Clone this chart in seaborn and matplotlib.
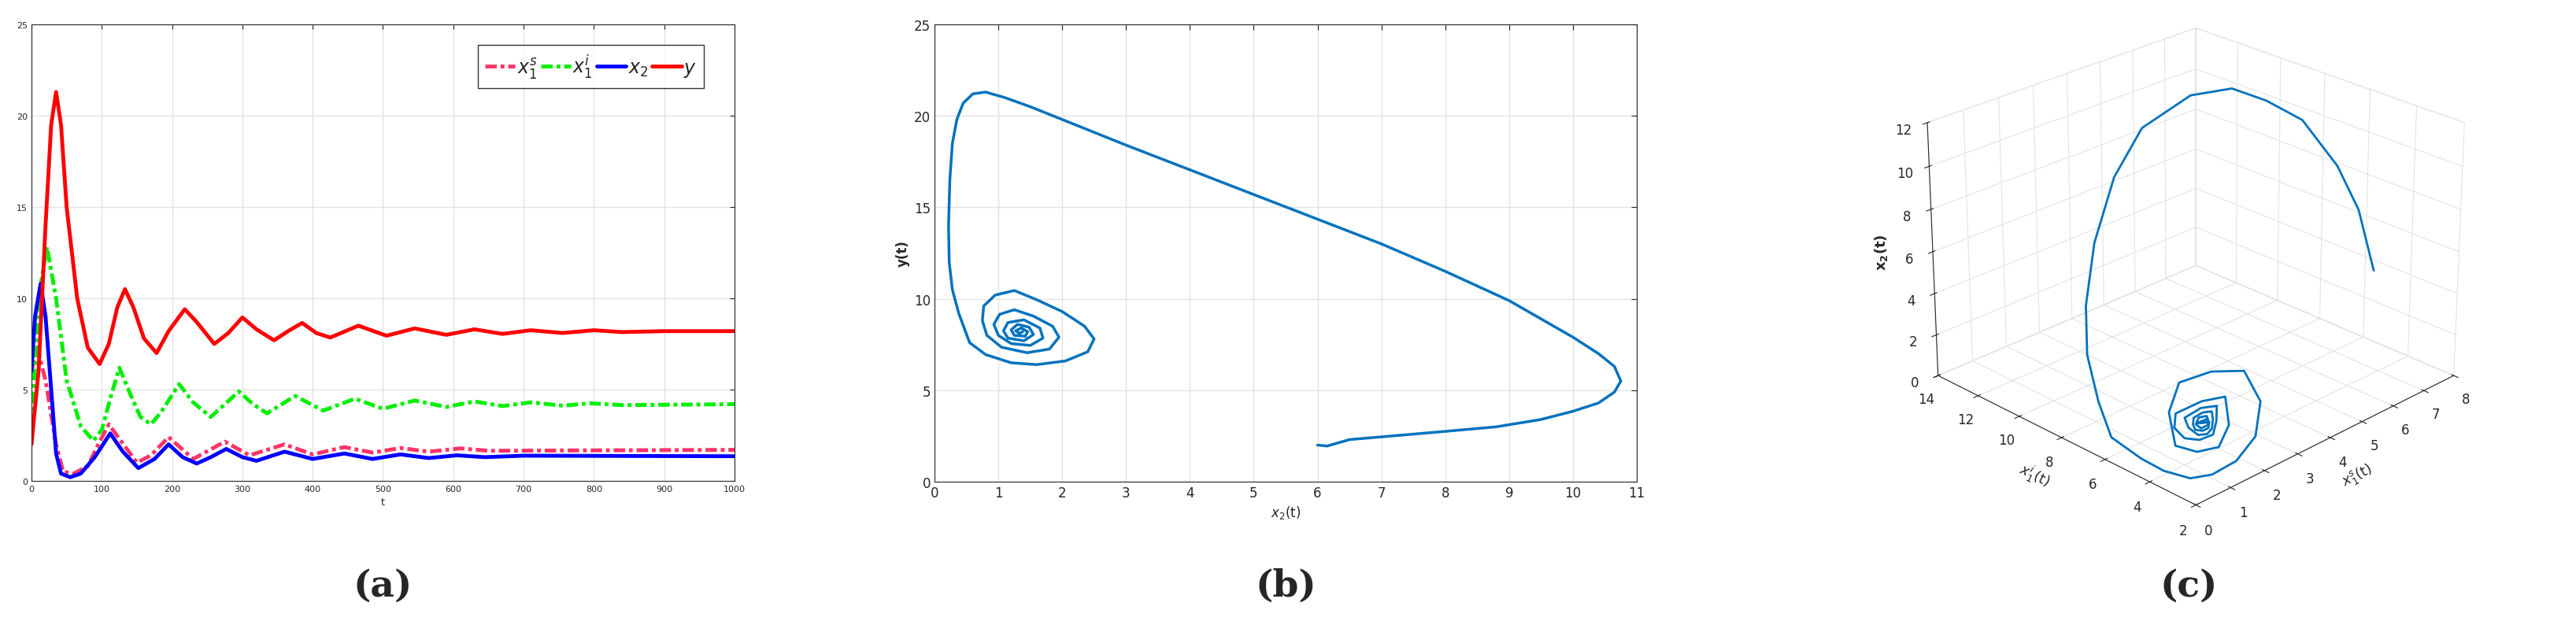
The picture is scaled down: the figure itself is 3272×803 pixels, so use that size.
import matplotlib
matplotlib.use('Agg')
import matplotlib.pyplot as plt
import seaborn as sns
import pandas as pd

sns.set_style('white')
plt.rcParams['font.family'] = ['DejaVu Sans']

# panel (a): time series at peaks / troughs / turns
t_y = [0, 10, 20, 28, 35, 42, 50, 65, 80, 97, 110, 122, 133, 145, 160, 178, 195, 218, 235, 260, 280, 300, 320, 345,
       365, 385, 405, 425, 465, 505, 545, 590, 630, 670, 710, 755, 800, 840, 900, 1000]
y_vals = [2, 6, 14, 19.5, 21.3, 19.5, 15, 10, 7.3, 6.4, 7.5, 9.5, 10.5, 9.5, 7.8, 7.0, 8.2, 9.4, 8.7, 7.5, 8.1, 8.95,
          8.3, 7.7, 8.2, 8.65, 8.1, 7.85, 8.5, 7.95, 8.35, 8.0, 8.3, 8.05, 8.25, 8.1, 8.25, 8.15, 8.2, 8.2]
t_i = [0, 10, 22, 35, 50, 70, 88, 100, 112, 125, 140, 155, 170, 185, 210, 230, 255, 275, 295, 315, 335, 375, 415,
       460, 500, 545, 590, 630, 670, 710, 755, 795, 840, 1000]
x1i_vals = [3, 10, 12.8, 10, 5.5, 3, 2.2, 2.8, 4.5, 6.2, 4.8, 3.5, 3.1, 3.8, 5.3, 4.3, 3.5, 4.2, 4.9, 4.2, 3.7, 4.65,
            3.85, 4.5, 3.95, 4.4, 4.05, 4.35, 4.1, 4.3, 4.12, 4.25, 4.15, 4.2]
t_s = [0, 8, 20, 35, 45, 60, 80, 95, 110, 125, 150, 170, 195, 230, 275, 310, 360, 400, 445, 485, 525, 565, 610,
       650, 1000]
x1s_vals = [6, 7.3, 5.5, 2, 0.5, 0.4, 0.8, 2, 3.1, 2.3, 1.0, 1.4, 2.4, 1.2, 2.15, 1.4, 2.0, 1.45, 1.85, 1.55, 1.8,
            1.6, 1.78, 1.65, 1.7]
t_2 = [0, 5, 13, 20, 28, 35, 42, 55, 70, 90, 112, 130, 152, 175, 195, 215, 235, 255, 277, 300, 320, 360, 400, 445,
       485, 525, 565, 605, 645, 700, 1000]
x2_vals = [6, 9, 10.8, 9, 5, 1.5, 0.4, 0.2, 0.4, 1.3, 2.6, 1.6, 0.7, 1.2, 2.0, 1.3, 0.95, 1.3, 1.75, 1.3, 1.1, 1.6,
           1.2, 1.5, 1.2, 1.45, 1.25, 1.4, 1.3, 1.38, 1.35]

# panel (b): phase trajectory x2 vs y
ph_x2 = [6, 6.15, 6.3, 6.5, 7, 8, 8.8, 9.5, 10.0, 10.4, 10.65, 10.75, 10.65, 10.4, 10.0, 9.5, 9, 8, 7, 5, 3, 2,
         1.5, 1.1, 0.8, 0.6, 0.45, 0.35, 0.28, 0.24, 0.22, 0.23, 0.28, 0.38,
         0.55, 0.8, 1.2, 1.6, 2.05, 2.4, 2.5, 2.35, 2.0, 1.6, 1.25, 0.95, 0.77, 0.75,
         0.82, 1.05, 1.45, 1.8, 1.95, 1.85, 1.55, 1.25, 1.02, 0.93,
         1.0, 1.2, 1.5, 1.7, 1.65, 1.4, 1.15, 1.08,
         1.15, 1.4, 1.55, 1.48, 1.3, 1.2,
         1.25, 1.42, 1.46, 1.36, 1.27, 1.33, 1.38]
ph_y = [2, 1.95, 2.1, 2.3, 2.45, 2.75, 3.0, 3.4, 3.85, 4.3, 4.9, 5.5, 6.3, 7.0, 7.9, 8.9, 9.9, 11.5, 13, 15.7, 18.4,
        19.8, 20.5, 21.0, 21.3, 21.2, 20.7, 19.8, 18.5, 16.5, 14, 12, 10.5, 9.2,
        7.6, 6.95, 6.5, 6.4, 6.6, 7.1, 7.8, 8.5, 9.3, 9.95, 10.45, 10.2, 9.6, 8.8,
        8.0, 7.35, 7.05, 7.25, 7.9, 8.5, 9.05, 9.4, 9.15, 8.6,
        8.0, 7.55, 7.45, 7.85, 8.4, 8.85, 8.7, 8.25,
        7.85, 7.7, 8.05, 8.45, 8.6, 8.3,
        8.0, 7.95, 8.2, 8.4, 8.25, 8.1, 8.2]

# panel (c): 3D trajectory (x1s, x1i, x2)
tr_s = [6, 6.6, 7.0, 7.3, 7.2, 7.0, 6.5, 5.5, 4.5, 3.5, 2.6, 2.0, 1.2, 0.5, 0.4, 0.4, 0.5, 0.8, 1.3, 2.0, 2.7, 3.1,
        2.8, 2.3, 1.6, 1.0, 1.1, 1.4, 1.9, 2.4, 2.1, 1.6, 1.3, 1.2, 1.3, 1.5, 1.8, 2.15, 1.95, 1.6, 1.45, 1.4, 1.5,
        1.6, 1.8, 2.0, 1.9, 1.7, 1.55, 1.45, 1.5, 1.6, 1.72, 1.85, 1.75, 1.6, 1.55, 1.65, 1.8, 1.62, 1.76, 1.66, 1.7]
tr_i = [3, 4.5, 6, 8, 9.5, 10.8, 12, 12.8, 12.6, 12, 11, 10, 8.2, 6.5, 5, 4, 3, 2.5, 2.2, 2.4, 3.2, 4.5, 5.5, 6.2,
        5.6, 4.4, 3.6, 3.1, 3.4, 4.3, 4.9, 5.3, 4.9, 4.3, 3.8, 3.5, 3.8, 4.3, 4.7, 4.9, 4.5, 4.0, 3.75, 3.7, 3.95,
        4.3, 4.55, 4.65, 4.45, 4.2, 3.95, 3.85, 4.0, 4.3, 4.5, 4.4, 4.1, 3.95, 4.2, 4.4, 4.05, 4.35, 4.2]
tr_2 = [6, 7.8, 9, 10.2, 10.6, 10.8, 10.3, 9, 7.3, 5, 3, 1.5, 0.7, 0.4, 0.25, 0.2, 0.3, 0.5, 0.9, 1.4, 2.1, 2.6,
        2.3, 1.8, 1.2, 0.7, 0.75, 1.0, 1.5, 2.0, 1.7, 1.3, 1.05, 0.95, 1.05, 1.3, 1.55, 1.75, 1.6, 1.3, 1.15, 1.1,
        1.2, 1.4, 1.55, 1.6, 1.5, 1.35, 1.25, 1.2, 1.25, 1.35, 1.45, 1.5, 1.4, 1.25, 1.25, 1.4, 1.45, 1.28, 1.4,
        1.32, 1.35]

fig = plt.figure(figsize=(32.73, 8.04), dpi=100)
grid_kw = dict(color='#e3e3e3', linewidth=1)

# ---- (a)
ax = fig.add_axes([40 / 3273, 1 - 612 / 804, 893 / 3273, 580 / 804])
sns.lineplot(x=t_s, y=x1s_vals, ax=ax, color='#ff3366', lw=3.5, linestyle=(0, (3, 1, 1, 1)), label=r'$x_1^s$')
sns.lineplot(x=t_i, y=x1i_vals, ax=ax, color='#00ee00', lw=3.5, linestyle=(0, (3, 1, 1, 1)), label=r'$x_1^i$')
sns.lineplot(x=t_2, y=x2_vals, ax=ax, color='#0000ff', lw=3.5, label=r'$x_2$')
sns.lineplot(x=t_y, y=y_vals, ax=ax, color='#ff0000', lw=3.5, label=r'$y$')
ax.set_xlim(0, 1000)
ax.set_ylim(0, 25)
ax.set_xticks(range(0, 1001, 100))
ax.set_yticks(range(0, 26, 5))
ax.grid(True, **grid_kw)
ax.tick_params(labelsize=8, direction='in', right=True, top=True, length=4)
ax.set_xlabel('t', fontsize=9)
leg = ax.legend(loc='upper right', ncol=4, fontsize=17, handlelength=1.6, columnspacing=0.2,
                handletextpad=0.1, fancybox=False, edgecolor='black', bbox_to_anchor=(0.97, 0.975))
leg.get_frame().set_linewidth(1)
fig.text(40 / 3273 + 893 / 3273 / 2, 1 - 745 / 804, '(a)', fontsize=34, ha='center', va='center',
         family='DejaVu Serif', fontweight='bold')

# ---- (b)
ax = fig.add_axes([1187 / 3273, 1 - 613 / 804, 892 / 3273, 581 / 804])
df_b = pd.DataFrame({'x2': ph_x2, 'y': ph_y})
sns.lineplot(data=df_b, x='x2', y='y', sort=False, estimator=None, ax=ax, color='#0072BD', lw=2.5)
ax.set_xlim(0, 11)
ax.set_ylim(0, 25)
ax.set_xticks(range(0, 12))
ax.set_yticks(range(0, 26, 5))
ax.grid(True, **grid_kw)
ax.tick_params(labelsize=12, direction='in', right=True, top=True, length=5)
ax.set_xlabel(r'$x_2$(t)', fontsize=12)
ax.set_ylabel('y(t)', fontsize=12, fontweight='bold')
fig.text(1187 / 3273 + 892 / 3273 / 2, 1 - 745 / 804, '(b)', fontsize=34, ha='center', va='center',
         family='DejaVu Serif', fontweight='bold')

# ---- (c)
ax = fig.add_axes([2250 / 3273, 1 - 670 / 804, 1060 / 3273, 680 / 804], projection='3d')
df_c = pd.DataFrame({'s': tr_s, 'i': tr_i, 'x2': tr_2})
ax.plot(df_c['s'], df_c['i'], df_c['x2'], color='#0072BD', lw=2)
ax.set_xlim(0, 8)
ax.set_ylim(2, 14)
ax.set_zlim(0, 12)
ax.set_xticks(range(0, 9))
ax.set_yticks(range(2, 15, 2))
ax.set_zticks(range(0, 13, 2))
ax.view_init(elev=25, azim=-135)
ax.set_box_aspect(None, zoom=1.08)
for a in (ax.xaxis, ax.yaxis, ax.zaxis):
    a.pane.fill = False
    a.pane.set_edgecolor('#dddddd')
    a._axinfo['grid']['color'] = '#e3e3e3'
ax.tick_params(labelsize=12)
ax.set_xlabel(r'$x_1^s$(t)', fontsize=13)
ax.set_ylabel(r'$x_1^i$(t)', fontsize=13)
ax.zaxis.set_rotate_label(False)
ax.set_zlabel(r'$\mathbf{x_2(t)}$', fontsize=13, rotation=90)
fig.text(2780 / 3273, 1 - 745 / 804, '(c)', fontsize=34, ha='center', va='center',
         family='DejaVu Serif', fontweight='bold')

fig.savefig('out.png', dpi=100, facecolor='white')
